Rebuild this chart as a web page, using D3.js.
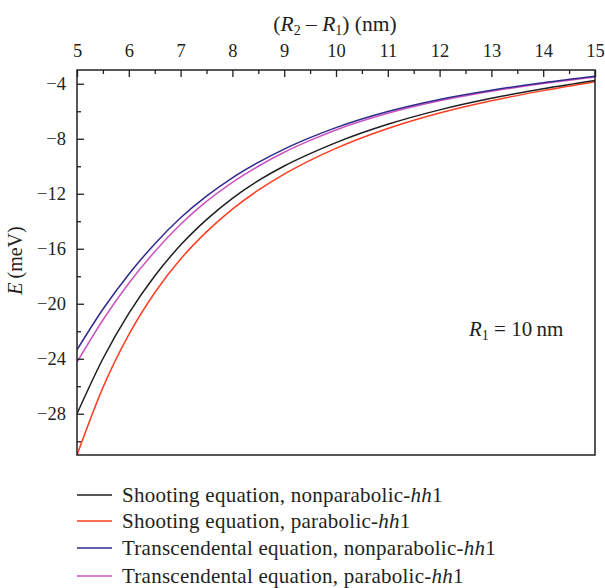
<!DOCTYPE html>
<html>
<head>
<meta charset="utf-8">
<script src="https://cdn.jsdelivr.net/npm/d3@7"></script>
<style>
  html, body { margin: 0; padding: 0; background: #fff; }
  svg { display: block; }
  text { font-family: "Liberation Serif", "Times New Roman", serif; fill: #231f20; }
</style>
</head>
<body>
<svg id="chart" width="605" height="588"></svg>
<script>
// ---- data ----
const widths = [5, 5.5, 6, 6.5, 7, 7.5, 8, 8.5, 9, 9.5, 10, 11, 12, 13, 14, 15];
const shootingNonparabolic = [-28.0, -24.0, -20.7, -17.98, -15.73, -13.88, -12.33, -11.05, -9.98, -9.08, -8.28, -6.95, -5.9, -5.06, -4.36, -3.76];
const shootingParabolic    = [-31.0, -26.1, -22.25, -19.2, -16.75, -14.77, -13.12, -11.74, -10.57, -9.57, -8.7, -7.26, -6.13, -5.24, -4.5, -3.85];
const transNonparabolic    = [-23.35, -20.4, -17.85, -15.65, -13.75, -12.17, -10.84, -9.72, -8.75, -7.92, -7.19, -6.02, -5.14, -4.47, -3.92, -3.45];
const transParabolic       = [-24.25, -21.18, -18.51, -16.21, -14.22, -12.56, -11.17, -10.0, -8.98, -8.12, -7.36, -6.15, -5.24, -4.55, -3.98, -3.5];

const xMajorTicks = [5, 6, 7, 8, 9, 10, 11, 12, 13, 14, 15];
const xMinorTicks = [5.5, 6.5, 7.5, 8.5, 9.5, 10.5, 11.5, 12.5, 13.5, 14.5];
const yMajorTicks = [-4, -8, -12, -16, -20, -24, -28];
const yMinorTicks = [-6, -10, -14, -18, -22, -26, -30];

const seriesNames = [
  ["Shooting equation, nonparabolic-", "hh", "1"],
  ["Shooting equation, parabolic-", "hh", "1"],
  ["Transcendental equation, nonparabolic-", "hh", "1"],
  ["Transcendental equation, parabolic-", "hh", "1"]
];
const seriesColors = ["#1f1f1f", "#ff3d21", "#2f2a8c", "#cc52bf"];
const seriesValues = [shootingNonparabolic, shootingParabolic, transNonparabolic, transParabolic];

// ---- layout ----
const svg = d3.select("#chart");
const m = { left: 77, right: 595, top: 70, bottom: 455 };

const x = d3.scaleLinear().domain([5, 15]).range([m.left, m.right]);
const y = d3.scaleLinear().domain([-31, -3]).range([m.bottom, m.top]);

const fmtMinus = d => (d < 0 ? "\u2212" + Math.abs(d) : String(d));

// curves
const line = d3.line()
  .x((d, i) => x(widths[i]))
  .y(d => y(d))
  .curve(d3.curveMonotoneX);

const plot = svg.append("g");
plot.append("clipPath").attr("id", "clip")
  .append("rect").attr("x", m.left).attr("y", m.top)
  .attr("width", m.right - m.left).attr("height", m.bottom - m.top);

[1, 0, 3, 2].forEach(k => {
  plot.append("path")
    .datum(seriesValues[k])
    .attr("d", line)
    .attr("fill", "none")
    .attr("stroke", seriesColors[k])
    .attr("stroke-width", 1.5)
    .attr("clip-path", "url(#clip)");
});

// top axis
const topMajor = d3.axisTop(x).tickValues(xMajorTicks).tickSizeInner(-7).tickSizeOuter(0).tickPadding(13)
  .tickFormat(d3.format("d"));
const gTop = svg.append("g").attr("transform", `translate(0,${m.top})`).call(topMajor);
const topMinor = d3.axisTop(x).tickValues(xMinorTicks).tickSizeInner(-4).tickSizeOuter(0).tickFormat("");
const gTopMin = svg.append("g").attr("transform", `translate(0,${m.top})`).call(topMinor);

// left axis
const leftMajor = d3.axisLeft(y).tickValues(yMajorTicks).tickSizeInner(-7).tickSizeOuter(0).tickPadding(11)
  .tickFormat(fmtMinus);
const gLeft = svg.append("g").attr("transform", `translate(${m.left},0)`).call(leftMajor);
const leftMinor = d3.axisLeft(y).tickValues(yMinorTicks).tickSizeInner(-4).tickSizeOuter(0).tickFormat("");
const gLeftMin = svg.append("g").attr("transform", `translate(${m.left},0)`).call(leftMinor);

[gTop, gTopMin, gLeft, gLeftMin].forEach(g => {
  g.select(".domain").remove();
  g.selectAll(".tick line").attr("stroke", "#231f20").attr("stroke-width", 1.3);
  g.selectAll(".tick text")
    .attr("font-family", "'Liberation Serif', serif")
    .attr("font-size", 18.5)
    .attr("fill", "#231f20");
});

// frame
svg.append("rect")
  .attr("x", m.left).attr("y", m.top)
  .attr("width", m.right - m.left).attr("height", m.bottom - m.top)
  .attr("fill", "none").attr("stroke", "#231f20").attr("stroke-width", 1.5);

// x title (top)
const xt = svg.append("text")
  .attr("x", (m.left + m.right) / 2 - 1).attr("y", 31)
  .attr("text-anchor", "middle").attr("font-size", 21.5);
xt.append("tspan").text("(");
xt.append("tspan").attr("font-style", "italic").text("R");
xt.append("tspan").attr("font-size", 14).attr("dy", 4).text("2");
xt.append("tspan").attr("dy", -4).text(" \u2013 ");
xt.append("tspan").attr("font-style", "italic").text("R");
xt.append("tspan").attr("font-size", 14).attr("dy", 4).text("1");
xt.append("tspan").attr("dy", -4).text(") (nm)");

// y title
const yt = svg.append("text")
  .attr("transform", `translate(22,${(m.top + m.bottom) / 2 - 2}) rotate(-90)`)
  .attr("text-anchor", "middle").attr("font-size", 20);
yt.append("tspan").attr("font-style", "italic").text("E");
yt.append("tspan").text("\u2009(meV)");

// annotation
const ann = svg.append("text")
  .attr("x", 469).attr("y", 336)
  .attr("font-size", 21);
ann.append("tspan").attr("font-style", "italic").text("R");
ann.append("tspan").attr("font-size", 14).attr("dy", 4).text("1");
ann.append("tspan").attr("dy", -4).text(" = 10\u2009nm");

// legend
const legRows = [495, 521, 548, 576];
seriesNames.forEach((parts, i) => {
  const g = svg.append("g").attr("transform", `translate(0,${legRows[i]})`);
  g.append("line").attr("x1", 77).attr("x2", 112).attr("y1", 0).attr("y2", 0)
    .attr("stroke", seriesColors[i]).attr("stroke-width", 1.5);
  const t = g.append("text").attr("x", 122).attr("y", 6.5)
    .attr("font-size", 21).attr("letter-spacing", 0.25);
  t.append("tspan").text(parts[0]);
  t.append("tspan").attr("font-style", "italic").text(parts[1]);
  t.append("tspan").text(parts[2]);
});
</script>
</body>
</html>
